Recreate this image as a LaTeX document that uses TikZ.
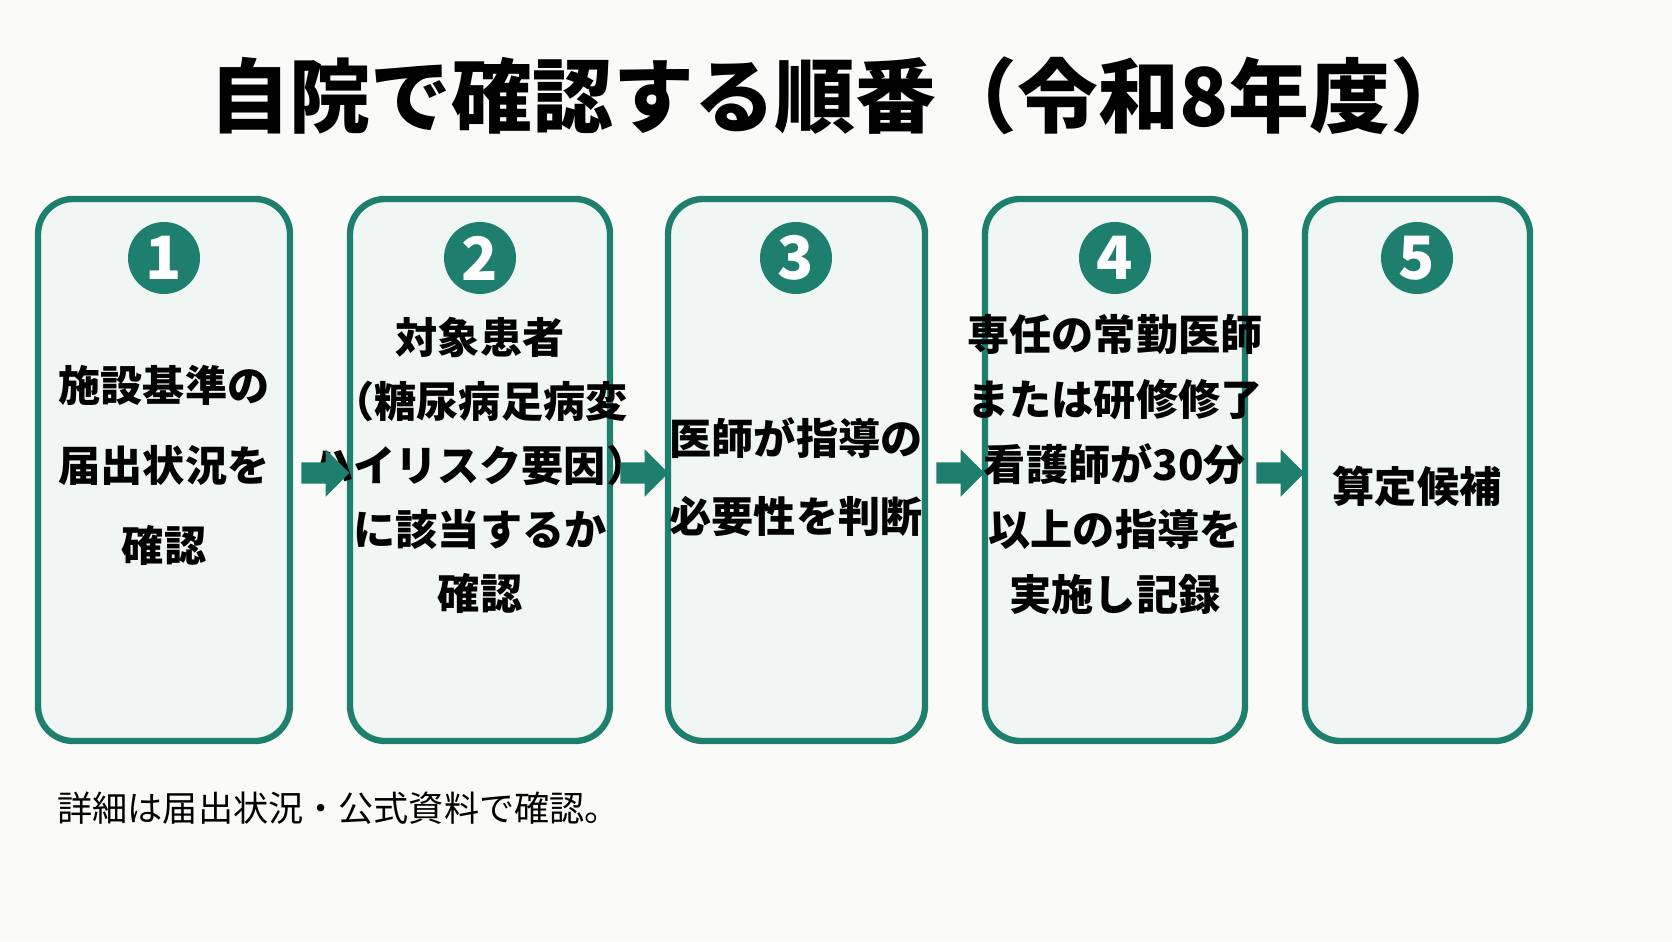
\documentclass[tikz,border=0pt]{standalone}
\usepackage{fontspec}
\newfontfamily\jp{Noto Sans CJK JP}
\usetikzlibrary{positioning,shapes.arrows}
\definecolor{stepgreen}{HTML}{1E7F6E}
\definecolor{boxfill}{HTML}{EFF6F4}
\definecolor{bg}{HTML}{FAFAF8}
\tikzset{
  stepbox/.style={draw=stepgreen, line width=1.8pt, fill=boxfill, rounded corners=10pt},
  num/.style={circle, fill=stepgreen, minimum size=0.72cm, inner sep=0pt, text=white, font=\jp\bfseries\fontsize{17pt}{17pt}\selectfont},
  txt/.style={align=center, font=\jp\bfseries\fontsize{12pt}{#1}\selectfont},
  arr/.style={single arrow, fill=stepgreen, minimum height=0.48cm, inner xsep=0pt, inner ysep=0.1cm, single arrow head extend=0.13cm, shape border rotate=0}
}
\begin{document}
\begin{tikzpicture}
    \fill[bg] (0,0) rectangle (16.72,9.41);
    \useasboundingbox (0,0) rectangle (16.72,9.41);
    % Titel
    \node[font=\jp\bfseries\fontsize{23pt}{23pt}\selectfont] (title) at (8.4,8.45) {自院で確認する順番（令和8年度）};
    % Kaesten
    \draw[stepbox] (0.38,2.0) rectangle (2.90,7.42);
    \draw[stepbox] (3.50,2.0) rectangle (6.10,7.42);
    \draw[stepbox] (6.68,2.0) rectangle (9.25,7.42);
    \draw[stepbox] (9.85,2.0) rectangle (12.45,7.42);
    \draw[stepbox] (13.05,2.0) rectangle (15.30,7.42);
    \node[num] (n1) at (1.64,6.83) {1};
    \node[num] (n2) at (4.80,6.83) {2};
    \node[num] (n3) at (7.96,6.83) {3};
    \node[num] (n4) at (11.15,6.83) {4};
    \node[num] (n5) at (14.17,6.83) {5};
    \node[txt=0.8cm] (t1) at (1.64,4.76) {施設基準の\\届出状況を\\確認};
    \node[txt=0.64cm] (t2) at (4.80,4.76) {対象患者\\（糖尿病足病変\\ハイリスク要因）\\に該当するか\\確認};
    \node[txt=0.78cm] (t3) at (7.96,4.64) {医師が指導の\\必要性を判断};
    \node[txt=0.65cm] (t4) at (11.15,4.76) {専任の常勤医師\\または研修修了\\看護師が30分\\以上の指導を\\実施し記録};
    \node[txt=0.65cm] (t5) at (14.17,4.55) {算定候補};
    % Pfeile
    \node[arr] (a1) at (3.20,4.68) {};
    \node[arr] (a2) at (6.39,4.68) {};
    \node[arr] (a3) at (9.55,4.68) {};
    \node[arr] (a4) at (12.75,4.68) {};
    % Fussnote
    \node[anchor=west, font=\jp\fontsize{10pt}{10pt}\selectfont] (note) at (0.45,1.33) {詳細は届出状況・公式資料で確認。};
\end{tikzpicture}
\end{document}
